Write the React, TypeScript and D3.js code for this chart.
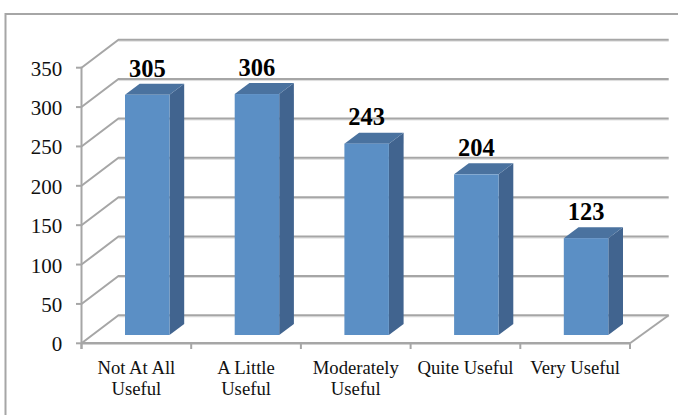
import React from "react";
import * as d3 from "d3";

const categories = ["Not At All Useful", "A Little Useful", "Moderately Useful", "Quite Useful", "Very Useful"];
const labelLines = [["Not At All", "Useful"], ["A Little", "Useful"], ["Moderately", "Useful"], ["Quite Useful"], ["Very Useful"]];
const values = [305, 306, 243, 204, 123];
const yTicks = [0, 50, 100, 150, 200, 250, 300, 350];

const serif = "'Liberation Serif', 'Times New Roman', serif";
const gridColor = "#a6a6a6";
const shadow = "#dcdcdc";

export default function App() {
  const x = d3.scaleBand<string>().domain(categories).range([81.5, 630]);
  const y = d3.scaleLinear().domain([0, 350]).range([343.3, 67.7]);
  const depthX = 37;
  const depthY = -28;
  const barDepthX = 14.7;
  const barDepthY = -11;
  const barLeft = 43.5;
  const barWidth = 44.5;
  const barBase = y(0) - 8.3;
  const unit = y(0) - y(1);
  const path = d3.line();

  return (
    <svg
      width={678}
      height={415}
      style={{ position: "fixed", left: 0, top: 0, background: "#fff", display: "block" }}
    >
      <path d="M5.5,415V14H678" fill="none" stroke={gridColor} strokeWidth={2} />

      {yTicks.map((t) => {
        const yy = y(t);
        const xb = 81.5 + depthX;
        const yb = yy + depthY;
        return (
          <g key={t}>
            <line x1={xb} x2={668.7} y1={yb + 1.5} y2={yb + 1.5} stroke={shadow} strokeWidth={1} />
            <path
              d={path([[81.5, yy], [xb, yb], [668.7, yb]]) ?? ""}
              fill="none"
              stroke={gridColor}
              strokeWidth={2}
            />
            <line x1={76} x2={81.5} y1={yy} y2={yy} stroke={gridColor} strokeWidth={2} />
            <text x={62.3} y={yy + 8} textAnchor="end" fontFamily={serif} fontSize={21} fill="#111">
              {t}
            </text>
          </g>
        );
      })}

      <line x1={81.5} x2={81.5} y1={y(350) - 1} y2={349} stroke={gridColor} strokeWidth={2} />
      <line x1={81.5} x2={630} y1={y(0)} y2={y(0)} stroke={gridColor} strokeWidth={2.5} />
      <line x1={630} x2={668.7} y1={y(0)} y2={y(0) + depthY} stroke={gridColor} strokeWidth={2} />
      {[...categories.map((c) => x(c) as number), 630].map((px) => (
        <line key={px} x1={px} x2={px} y1={y(0)} y2={349} stroke={gridColor} strokeWidth={2} />
      ))}

      {categories.map((c, i) => {
        const left = (x(c) as number) + barLeft;
        const right = left + barWidth;
        const top = barBase - values[i] * unit;
        return (
          <g key={c}>
            <path
              d={path([[right, top], [right + barDepthX, top + barDepthY], [right + barDepthX, barBase + barDepthY], [right, barBase]]) + "Z"}
              fill="#41648f"
            />
            <path
              d={path([[left, top], [left + barDepthX, top + barDepthY], [right + barDepthX, top + barDepthY], [right, top]]) + "Z"}
              fill="#4a729f"
            />
            <rect x={left} y={top} width={barWidth} height={barBase - top} fill="#5b8fc5" />
            <text
              x={left + barWidth / 2}
              y={top - 18.3}
              textAnchor="middle"
              fontFamily={serif}
              fontWeight="bold"
              fontSize={24.5}
              fill="#000"
            >
              {values[i]}
            </text>
            <text textAnchor="middle" fontFamily={serif} fontSize={18.7} fill="#111">
              {labelLines[i].map((line, j) => (
                <tspan key={line} x={(x(c) as number) + x.bandwidth() / 2} y={374 + j * 20.7}>
                  {line}
                </tspan>
              ))}
            </text>
          </g>
        );
      })}
    </svg>
  );
}
